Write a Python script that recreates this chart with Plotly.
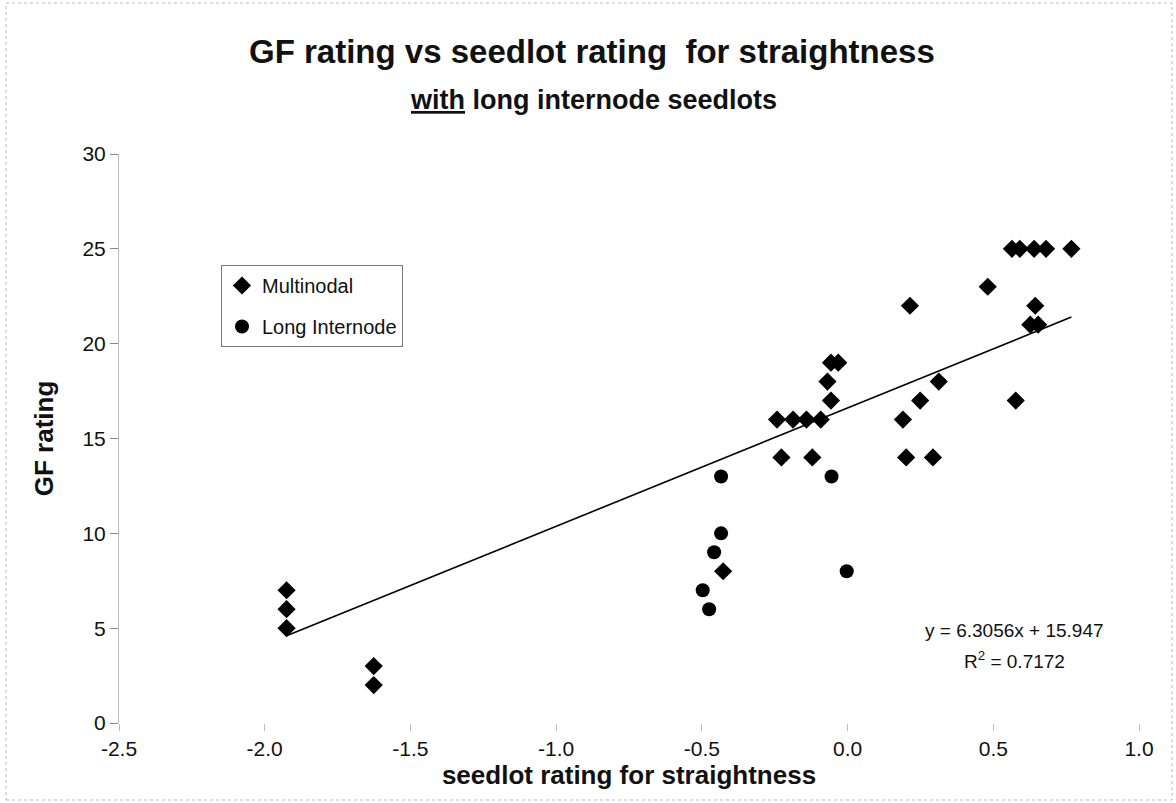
import plotly.graph_objects as go

# ---- data ----
multi_x = [-1.925, -1.925, -1.925, -1.626, -1.626, -0.427,
           -0.242, -0.187, -0.141, -0.092, -0.227, -0.121,
           -0.057, -0.032, -0.069, -0.057,
           0.190, 0.249, 0.313, 0.201, 0.293, 0.214,
           0.481, 0.577, 0.627, 0.654, 0.644,
           0.564, 0.591, 0.640, 0.681, 0.768]
multi_y = [7, 6, 5, 3, 2, 8,
           16, 16, 16, 16, 14, 14,
           19, 19, 18, 17,
           16, 17, 18, 14, 14, 22,
           23, 17, 21, 21, 22,
           25, 25, 25, 25, 25]

long_x = [-0.434, -0.434, -0.458, -0.497, -0.475, -0.003, -0.055]
long_y = [13, 10, 9, 7, 6, 8, 13]

# trendline as drawn (end points)
trend_x = [-1.925, 0.768]
trend_y = [4.6, 21.4]

x_ticks = [-2.5, -2.0, -1.5, -1.0, -0.5, 0.0, 0.5, 1.0]
x_ticklabels = ["-2.5", "-2.0", "-1.5", "-1.0", "-0.5", "0.0", "0.5", "1.0"]
y_ticks = [0, 5, 10, 15, 20, 25, 30]

FONT = "Arial, Liberation Sans, sans-serif"

fig = go.Figure()
fig.add_trace(go.Scatter(x=trend_x, y=trend_y, mode="lines",
                         line=dict(color="black", width=1.6),
                         showlegend=False, hoverinfo="skip"))
fig.add_trace(go.Scatter(x=multi_x, y=multi_y, mode="markers", name="Multinodal",
                         legendgroup="a",
                         marker=dict(symbol="diamond", size=14, color="black")))
fig.add_trace(go.Scatter(x=long_x, y=long_y, mode="markers", name="Long Internode",
                         legendgroup="b",
                         marker=dict(symbol="circle", size=14, color="black")))

W, H = 1176, 803
L, R, T, B = 119, 37, 154, 80
pw, ph = W - L - R, H - T - B

def px(xp):
    return (xp - L) / pw

def py(yp):
    return (H - B - yp) / ph

fig.update_layout(
    width=W, height=H,
    margin=dict(l=L, r=R, t=T, b=B),
    paper_bgcolor="white", plot_bgcolor="white",
    font=dict(family=FONT, color="#111"),
    showlegend=True,
    legend=dict(x=px(221), y=py(265), xanchor="left", yanchor="top",
                bordercolor="#777", borderwidth=1, bgcolor="white",
                font=dict(family=FONT, size=20, color="#111"),
                tracegroupgap=12, itemwidth=30),
    xaxis=dict(range=[-2.5, 1.0], tickvals=x_ticks, ticktext=x_ticklabels,
               showgrid=False, zeroline=False, showline=False,
               ticks="outside", ticklen=7, tickcolor="#bbb",
               tickfont=dict(family=FONT, size=21, color="#111"),
               title=dict(text="<b>seedlot rating for straightness</b>",
                          font=dict(family=FONT, size=26, color="#111"),
                          standoff=4)),
    yaxis=dict(range=[0, 30], tickvals=y_ticks,
               showgrid=False, zeroline=False, showline=True,
               linecolor="#bbb", linewidth=1,
               ticks="outside", ticklen=8, tickcolor="#888",
               tickfont=dict(family=FONT, size=21, color="#111"),
               title=dict(text="<b>GF rating</b>",
                          font=dict(family=FONT, size=26, color="#111"),
                          standoff=21)),
)

annotations = [
    dict(text="<b>GF rating vs seedlot rating  for straightness</b>",
         xref="paper", yref="paper", x=px(592), y=py(52),
         xanchor="center", yanchor="middle", showarrow=False,
         font=dict(family=FONT, size=33, color="#111")),
    dict(text="<b><u>with</u> long internode seedlots</b>",
         xref="paper", yref="paper", x=px(593), y=py(100),
         xanchor="center", yanchor="middle", showarrow=False,
         font=dict(family=FONT, size=27, color="#111")),
    dict(text="y = 6.3056x + 15.947",
         xref="paper", yref="paper", x=px(1014), y=py(630),
         xanchor="center", yanchor="middle", showarrow=False,
         font=dict(family=FONT, size=19, color="#111")),
    dict(text="R<sup>2</sup> = 0.7172",
         xref="paper", yref="paper", x=px(1014), y=py(660),
         xanchor="center", yanchor="middle", showarrow=False,
         font=dict(family=FONT, size=19, color="#111")),
]
fig.update_layout(annotations=annotations)

# faint outer frame of the chart
fig.add_shape(type="rect", xref="paper", yref="paper",
              x0=px(6), x1=px(1172), y0=py(800), y1=py(3),
              line=dict(color="#bbb", width=1, dash="dot"))

# remove the default page margin so the figure sits at the window origin
fig.write_html("out.html", config={"displayModeBar": False},
               post_script="document.body.style.margin='0';")
